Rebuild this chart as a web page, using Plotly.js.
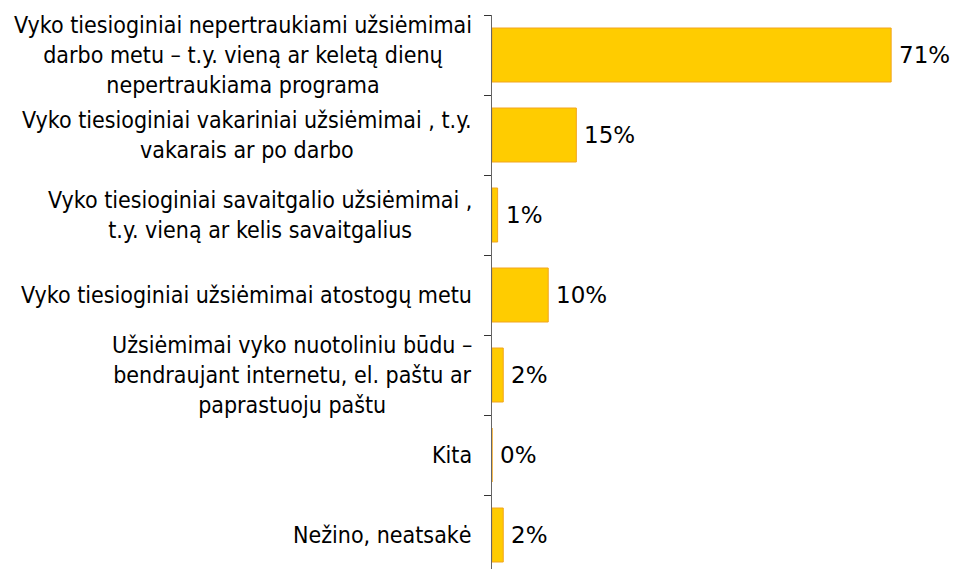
<!DOCTYPE html>
<html>
<head>
<meta charset="utf-8">
<script src="https://cdn.plot.ly/plotly-3.0.1.min.js"></script>
<style>html,body{margin:0;padding:0;background:#fff;}#chart{width:954px;height:569px;}</style>
</head>
<body>
<div id="chart"></div>
<script>
var categories = [
  "Vyko tiesioginiai nepertraukiami užsiėmimai<br>darbo metu – t.y. vieną ar keletą dienų<br>nepertraukiama programa",
  "Vyko tiesioginiai vakariniai užsiėmimai , t.y.<br>vakarais ar po darbo",
  "Vyko tiesioginiai savaitgalio užsiėmimai ,<br>t.y. vieną ar kelis savaitgalius",
  "Vyko tiesioginiai užsiėmimai atostogų metu",
  "Užsiėmimai vyko nuotoliniu būdu –<br>bendraujant internetu, el. paštu ar<br>paprastuoju paštu",
  "Kita",
  "Nežino, neatsakė"
];
var values = [71, 15, 1, 10, 2, 0, 2];
var valueLabels = ["71%", "15%", "1%", "10%", "2%", "0%", "2%"];

var LABEL_FONT = "DejaVu Sans Condensed, DejaVu Sans, sans-serif";
var VALUE_FONT = "DejaVu Sans, sans-serif";
var idx = categories.map(function(_, i){ return i; });

var trace = {
  type: "bar",
  orientation: "h",
  x: values,
  y: idx,
  marker: {color: "#FFCC00", line: {color: "#F2A51E", width: 1}},
  hoverinfo: "none"
};

var annotations = [];
categories.forEach(function(c, i){
  annotations.push({
    x: 0, y: i, xref: "x", yref: "y",
    text: c, showarrow: false, xanchor: "right", yanchor: "middle",
    align: "center", xshift: -18,
    font: {family: LABEL_FONT, size: 23, color: "#000"}
  });
  annotations.push({
    x: values[i], y: i, xref: "x", yref: "y",
    text: valueLabels[i], showarrow: false, xanchor: "left", yanchor: "middle",
    xshift: 6,
    font: {family: VALUE_FONT, size: 23, color: "#000"}
  });
});

var layout = {
  width: 954, height: 569,
  margin: {l: 492, r: 10, t: 15, b: 0, pad: 0},
  paper_bgcolor: "#fff", plot_bgcolor: "#fff",
  showlegend: false,
  bargap: 0.325,
  xaxis: {visible: false, range: [0, 80.4], fixedrange: true},
  yaxis: {
    type: "linear", range: [6.425, -0.5],
    showgrid: false, zeroline: false, showticklabels: false,
    showline: true, linecolor: "#666", linewidth: 1,
    ticks: "outside", ticklen: 7, tickcolor: "#333", tickwidth: 1,
    tickmode: "array", tickvals: [-0.5, 0.5, 1.5, 2.5, 3.5, 4.5, 5.5]
  },
  annotations: annotations
};

Plotly.newPlot("chart", [trace], layout, {displayModeBar: false, staticPlot: true});
</script>
</body>
</html>
